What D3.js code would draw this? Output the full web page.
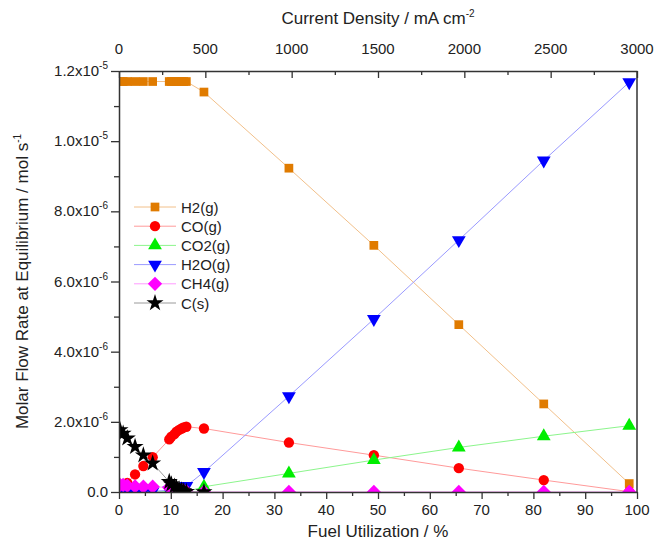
<!DOCTYPE html>
<html>
<head>
<meta charset="utf-8">
<script src="https://cdn.jsdelivr.net/npm/d3@7"></script>
<style>
  body { margin: 0; background: #fff; }
  text { font-family: "Liberation Sans", Arial, sans-serif; fill: #222; }
</style>
</head>
<body>
<svg class="graph" width="657" height="545"></svg>
<script>
// fuel utilization (%) for every calculated point
var fuelUtil = [0.2, 0.8, 1.6, 3.1, 4.7, 6.5, 9.7, 10.1, 10.7, 11.1, 11.6, 12.1, 12.5, 13.0,
  16.4, 32.8, 49.2, 65.6, 82.0, 98.5];

var h2 = [1.17e-5, 1.17e-5, 1.17e-5, 1.17e-5, 1.17e-5, 1.17e-5, 1.17e-5, 1.17e-5, 1.17e-5, 1.17e-5,
  1.17e-5, 1.17e-5, 1.17e-5, 1.17e-5, 1.14e-5, 9.23e-6, 7.03e-6, 4.77e-6, 2.51e-6, 2.4e-7];
var co = [1.0e-7, 1.6e-7, 2.6e-7, 5.0e-7, 7.4e-7, 9.9e-7, 1.50e-6, 1.58e-6, 1.65e-6, 1.72e-6,
  1.77e-6, 1.81e-6, 1.84e-6, 1.86e-6, 1.81e-6, 1.41e-6, 1.05e-6, 6.8e-7, 3.4e-7, 1.0e-8];
var co2 = [0, 0, 0, 0, 0, 0, 1e-8, 1e-8, 1e-8, 1e-8, 1e-8, 1e-8, 1e-8, 1e-8,
  1.5e-7, 5.3e-7, 9.1e-7, 1.27e-6, 1.59e-6, 1.89e-6];
var h2o = [2e-8, 2e-8, 2e-8, 2e-8, 2e-8, 2e-8, 5e-8, 6e-8, 8e-8, 1.0e-7, 1.1e-7, 1.3e-7, 1.5e-7, 1.7e-7,
  5.7e-7, 2.73e-6, 4.93e-6, 7.18e-6, 9.45e-6, 1.168e-5];
var ch4 = [2.0e-7, 2.0e-7, 1.8e-7, 1.6e-7, 1.5e-7, 1.5e-7, 1.3e-7, 1.1e-7, 1.0e-7, 8e-8, 6e-8, 5e-8, 3e-8, 2e-8,
  0, 0, 0, 0, 0, 0];
// no solid carbon reported past 500 mA cm-2
var carbon = [1.77e-6, 1.67e-6, 1.53e-6, 1.29e-6, 1.05e-6, 8.2e-7, 2.9e-7, 2.2e-7, 1.6e-7, 1.2e-7,
  8e-8, 5e-8, 3e-8, 1e-8, 0, null, null, null, null, null];

var seriesNames = ["H2(g)", "CO(g)", "CO2(g)", "H2O(g)", "CH4(g)", "C(s)"];
var seriesValues = [h2, co, co2, h2o, ch4, carbon];

var xTicks = [0, 10, 20, 30, 40, 50, 60, 70, 80, 90, 100];
var topTicks = [0, 500, 1000, 1500, 2000, 2500, 3000];
var yTicks = [0, 2e-6, 4e-6, 6e-6, 8e-6, 1e-5, 1.2e-5];
var yTickLabels = ["0.0", "2.0x10|-6", "4.0x10|-6", "6.0x10|-6", "8.0x10|-6", "1.0x10|-5", "1.2x10|-5"];

var colors = ["#e07b00", "#ff0000", "#00ee00", "#0000ff", "#ff00ff", "#000000"];
var lineColors = ["#f2c08a", "#ff9a9a", "#8cf58c", "#9a9aff", "#ff9aff", "#9a9a9a"];

var svg = d3.select('svg.graph'),
  margin = {top: 71, right: 20, bottom: 53, left: 119},
  width = +svg.attr("width") - margin.left - margin.right,
  height = +svg.attr("height") - margin.top - margin.bottom,
  g = svg.append("g").attr("transform", "translate(" + margin.left + "," + margin.top + ")");

var x = d3.scaleLinear().domain([0, 100]).range([0, width]);
var xTop = d3.scaleLinear().domain([0, 3000]).range([0, width]);
var y = d3.scaleLinear().domain([0, 1.2e-5]).range([height, 0]);

// marker shapes
var diamond = { draw: function(ctx, size) {
  var r = Math.sqrt(size) / 1.25;
  ctx.moveTo(0, -r); ctx.lineTo(r, 0); ctx.lineTo(0, r); ctx.lineTo(-r, 0); ctx.closePath();
}};
var shapes = [
  d3.symbol().type(d3.symbolSquare).size(76),
  d3.symbol().type(d3.symbolCircle).size(84),
  d3.symbol().type(d3.symbolTriangle).size(82),
  d3.symbol().type(d3.symbolTriangle).size(82),
  d3.symbol().type(diamond).size(80),
  d3.symbol().type(d3.symbolStar).size(90)
];
var rotate = [0, 0, 0, 180, 0, 0];

g.append("clipPath").attr("id", "plotclip")
  .append("rect").attr("x", 0).attr("y", 0).attr("width", width).attr("height", height);

var plot = g.append("g").attr("clip-path", "url(#plotclip)");

var line = d3.line()
  .x(function(d) { return x(d.x); })
  .y(function(d) { return y(d.y); });

seriesValues.forEach(function(vals, i) {
  var pts = fuelUtil.map(function(f, j) { return {x: f, y: vals[j]}; })
    .filter(function(d) { return d.y !== null; });
  plot.append("path")
    .datum(pts)
    .attr("d", line)
    .attr("fill", "none")
    .attr("stroke", lineColors[i])
    .attr("stroke-width", 1);
  plot.append("g").selectAll("path")
    .data(pts)
    .enter().append("path")
      .attr("d", shapes[i])
      .attr("transform", function(d) { return "translate(" + x(d.x) + "," + y(d.y) + ") rotate(" + rotate[i] + ")"; })
      .attr("fill", colors[i]);
});

// axes
var axisColor = "#333";
g.append("g")
  .attr("class", "axis")
  .attr("transform", "translate(0," + height + ")")
  .call(d3.axisBottom(x).tickValues(d3.range(0, 101, 5)).tickSize(0).tickFormat(""))
  .call(function(a) {
    a.select(".domain").attr("stroke", axisColor).attr("stroke-width", 1.5);
    a.selectAll(".tick line").attr("y2", function(d) { return d % 10 === 0 ? 7 : 4; })
      .attr("stroke", axisColor).attr("stroke-width", 1.3);
  });

g.append("g")
  .attr("transform", "translate(0," + height + ")")
  .selectAll("text")
  .data(xTicks)
  .enter().append("text")
    .attr("x", function(d) { return x(d); })
    .attr("y", 23)
    .attr("text-anchor", "middle")
    .style("font-size", "15px")
    .text(function(d) { return d; });

g.append("g")
  .attr("class", "axis")
  .call(d3.axisTop(xTop).tickValues(d3.range(0, 3001, 250)).tickSize(0).tickFormat(""))
  .call(function(a) {
    a.select(".domain").attr("stroke", axisColor).attr("stroke-width", 1.5);
    a.selectAll(".tick line").attr("y2", function(d) { return d % 500 === 0 ? 7 : 4; })
      .attr("stroke", axisColor).attr("stroke-width", 1.3);
  });

g.append("g")
  .selectAll("text")
  .data(topTicks)
  .enter().append("text")
    .attr("x", function(d) { return xTop(d); })
    .attr("y", -17)
    .attr("text-anchor", "middle")
    .style("font-size", "15px")
    .text(function(d) { return d; });

g.append("g")
  .attr("class", "axis")
  .call(d3.axisLeft(y).tickValues(d3.range(0, 13).map(function(k) { return k * 1e-6; })).tickSize(0).tickFormat(""))
  .call(function(a) {
    a.select(".domain").attr("stroke", axisColor).attr("stroke-width", 1.5);
    a.selectAll(".tick line").attr("x2", function(d, k) { return k % 2 === 0 ? -8 : -5; })
      .attr("stroke", axisColor).attr("stroke-width", 1.3);
  });

var ylab = g.append("g")
  .selectAll("text")
  .data(yTicks)
  .enter().append("text")
    .attr("x", -11)
    .attr("y", function(d) { return y(d) + 5; })
    .attr("text-anchor", "end")
    .style("font-size", "15px");
ylab.each(function(d, k) {
  var parts = yTickLabels[k].split("|");
  var t = d3.select(this);
  t.append("tspan").text(parts[0]);
  if (parts[1]) t.append("tspan").attr("dy", -7).style("font-size", "10px").text(parts[1]);
});

g.append("line")
  .attr("x1", width).attr("x2", width).attr("y1", 0).attr("y2", height)
  .attr("stroke", axisColor).attr("stroke-width", 1.5);

// titles
svg.append("text")
  .attr("x", margin.left + width / 2)
  .attr("y", 537)
  .attr("text-anchor", "middle")
  .style("font-size", "17px")
  .text("Fuel Utilization / %");

var tt = svg.append("text")
  .attr("x", margin.left + width / 2)
  .attr("y", 24)
  .attr("text-anchor", "middle")
  .style("font-size", "17px");
tt.append("tspan").text("Current Density / mA cm");
tt.append("tspan").attr("dy", -7).style("font-size", "10px").text("-2");

var yt = svg.append("text")
  .attr("transform", "translate(28," + (margin.top + height / 2) + ") rotate(-90)")
  .attr("text-anchor", "middle")
  .style("font-size", "17px");
yt.append("tspan").text("Molar Flow Rate at Equilibrium / mol s");
yt.append("tspan").attr("dy", -7).style("font-size", "10px").text("-1");

// legend
var legend = svg.append("g").attr("transform", "translate(134,207)");
seriesNames.forEach(function(name, i) {
  var row = legend.append("g").attr("transform", "translate(0," + (i * 19.2) + ")");
  row.append("line").attr("x1", 0).attr("x2", 42).attr("y1", 0).attr("y2", 0)
    .attr("stroke", lineColors[i]).attr("stroke-width", 1);
  row.append("path").attr("d", shapes[i])
    .attr("transform", "translate(21,0) rotate(" + rotate[i] + ")")
    .attr("fill", colors[i]);
  row.append("text").attr("x", 47).attr("y", 5.5)
    .style("font-size", "15px")
    .text(name);
});
</script>
</body>
</html>
